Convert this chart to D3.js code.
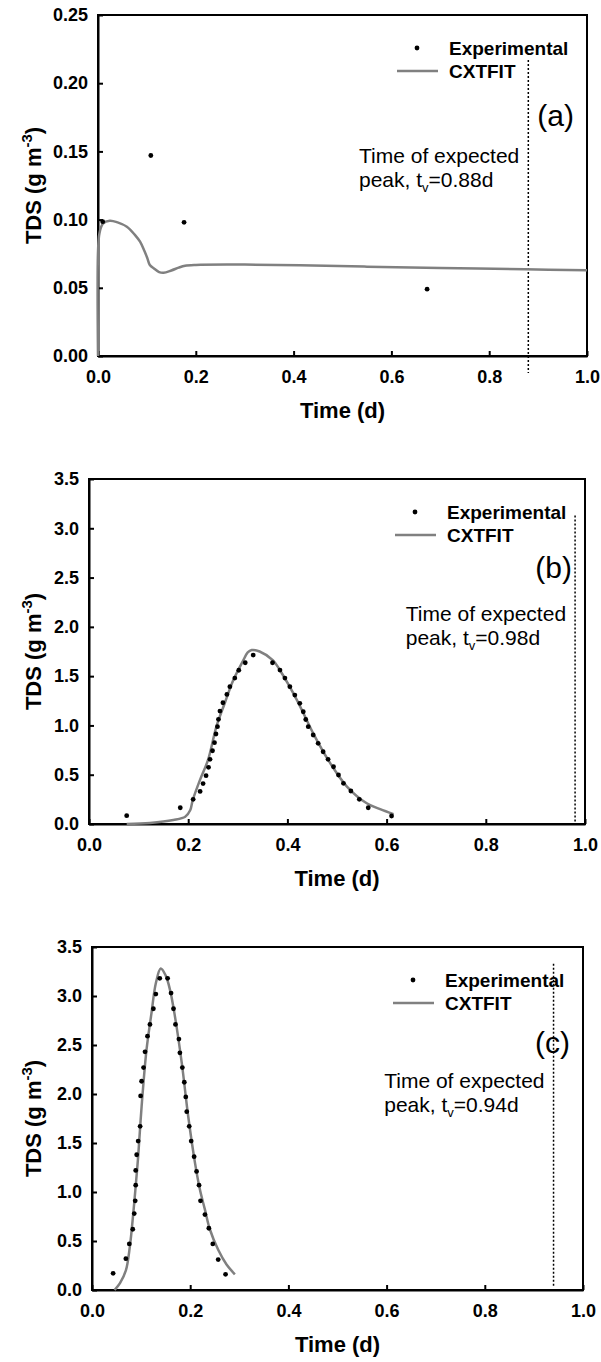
<!DOCTYPE html>
<html>
<head>
<meta charset="utf-8">
<title>TDS breakthrough curves</title>
<script src="https://d3js.org/d3.v7.min.js"></script>
<style>
  body { margin: 0; background: #fff; }
  svg { display: block; font-family: "Liberation Sans", Arial, sans-serif; }
  .tick text { font-weight: bold; font-size: 18px; fill: #000; }
  .axis-title { font-weight: bold; font-size: 22px; }
  .legend text { font-weight: bold; font-size: 19px; }
  .note { font-size: 21px; }
  .panel-label { font-size: 30px; }
</style>
</head>
<body>
<div id="chart"></div>
<script>
// ---- data ----
const xTicks = [0, 0.2, 0.4, 0.6, 0.8, 1.0];
const yTicksA = [0, 0.05, 0.10, 0.15, 0.20, 0.25];
const yTicksBC = [0, 0.5, 1.0, 1.5, 2.0, 2.5, 3.0, 3.5];
const panelLabels = ["(a)", "(b)", "(c)"];
const peakTimes = [0.88, 0.98, 0.94];
const peakLineTop = [0.217, 3.13, 3.33];
const peakLineBottom = [-0.0125, 0, 0.04];

// panel (a)
const expA = [[0.0096, 0.0985], [0.108, 0.147], [0.176, 0.098], [0.673, 0.049]];
const fitA = [[0, 0], [0, 0.076], [0.003, 0.09], [0.01, 0.097], [0.024, 0.0992], [0.04, 0.098],
  [0.059, 0.0948], [0.075, 0.089], [0.086, 0.0838], [0.095, 0.077], [0.101, 0.0716],
  [0.106, 0.0667], [0.115, 0.064], [0.125, 0.0615], [0.134, 0.061], [0.15, 0.0627],
  [0.165, 0.0648], [0.178, 0.0662], [0.2, 0.0668], [0.3, 0.067], [0.413, 0.0666],
  [0.55, 0.0655], [0.7, 0.0645], [0.873, 0.0636], [1.0, 0.0628]];

// panel (b)
const expB = [[0.076, 0.084], [0.184, 0.165], [0.210, 0.25], [0.224, 0.33], [0.230, 0.41],
  [0.236, 0.49], [0.241, 0.575], [0.244, 0.656], [0.249, 0.743], [0.253, 0.825],
  [0.256, 0.913], [0.259, 0.987], [0.261, 1.062], [0.264, 1.146], [0.270, 1.23],
  [0.278, 1.315], [0.284, 1.393], [0.294, 1.48], [0.302, 1.56], [0.315, 1.636],
  [0.331, 1.714], [0.370, 1.636], [0.385, 1.562], [0.395, 1.48], [0.405, 1.393],
  [0.415, 1.308], [0.425, 1.224], [0.432, 1.139], [0.437, 1.06], [0.442, 0.987],
  [0.452, 0.903], [0.462, 0.818], [0.472, 0.733], [0.482, 0.656], [0.493, 0.581],
  [0.503, 0.497], [0.513, 0.413], [0.528, 0.335], [0.545, 0.25], [0.563, 0.165],
  [0.610, 0.081]];
const fitB = [[0.076, 0], [0.123, 0.01], [0.17, 0.04], [0.194, 0.074], [0.204, 0.14],
  [0.209, 0.24], [0.224, 0.45], [0.24, 0.65], [0.257, 0.99], [0.274, 1.23], [0.291, 1.46],
  [0.31, 1.65], [0.32, 1.74], [0.328, 1.765], [0.344, 1.75], [0.371, 1.66], [0.385, 1.56],
  [0.419, 1.26], [0.452, 0.92], [0.486, 0.62], [0.52, 0.38], [0.56, 0.21], [0.587, 0.15],
  [0.614, 0.10]];

// panel (c)
const expC = [[0.043, 0.17], [0.069, 0.32], [0.076, 0.47], [0.083, 0.62], [0.086, 0.78],
  [0.088, 0.91], [0.089, 1.07], [0.089, 1.22], [0.091, 1.38], [0.094, 1.52], [0.098, 1.67],
  [0.099, 1.98], [0.101, 2.13], [0.105, 2.27], [0.108, 2.43], [0.113, 2.59], [0.118, 2.71],
  [0.125, 2.87], [0.130, 3.02], [0.138, 3.18], [0.154, 3.18], [0.161, 3.03], [0.166, 2.87],
  [0.170, 2.71], [0.177, 2.56], [0.179, 2.42], [0.184, 2.27], [0.188, 2.12], [0.191, 1.97],
  [0.193, 1.82], [0.198, 1.67], [0.202, 1.52], [0.208, 1.36], [0.213, 1.21], [0.218, 1.07],
  [0.221, 0.91], [0.230, 0.77], [0.238, 0.63], [0.246, 0.47], [0.257, 0.31], [0.272, 0.16]];
const fitC = [[0.046, 0], [0.057, 0.07], [0.069, 0.2], [0.077, 0.44], [0.084, 0.78],
  [0.09, 1.12], [0.094, 1.36], [0.101, 1.87], [0.111, 2.45], [0.121, 2.82], [0.13, 3.13],
  [0.14, 3.28], [0.15, 3.21], [0.159, 3.06], [0.169, 2.79], [0.183, 2.31], [0.196, 1.77],
  [0.21, 1.29], [0.22, 1.02], [0.23, 0.82], [0.24, 0.62], [0.257, 0.41], [0.274, 0.26],
  [0.291, 0.16]];

// ---- layout ----
const W = 601, H = 1362;
const panels = [
  { box: { left: 98, right: 587, top: 15, bottom: 356 }, yMax: 0.25, yTicks: yTicksA, yFmt: ".2f",
    exp: expA, fit: fitA, labelDy: 111, noteDy: 148 },
  { box: { left: 89, right: 585, top: 479, bottom: 824 }, yMax: 3.5, yTicks: yTicksBC, yFmt: ".1f",
    exp: expB, fit: fitB, labelDy: 99, noteDy: 142 },
  { box: { left: 92, right: 583, top: 947, bottom: 1290 }, yMax: 3.5, yTicks: yTicksBC, yFmt: ".1f",
    exp: expC, fit: fitC, labelDy: 106, noteDy: 141 }
];

const svg = d3.select("#chart").append("svg")
  .attr("width", W)
  .attr("height", H);

panels.forEach((p, i) => {
  const b = p.box;
  const x = d3.scaleLinear().domain([0, 1]).range([b.left, b.right]);
  const y = d3.scaleLinear().domain([0, p.yMax]).range([b.bottom, b.top]);
  const g = svg.append("g");

  // frame
  g.append("rect")
    .attr("x", b.left).attr("y", b.top)
    .attr("width", b.right - b.left).attr("height", b.bottom - b.top)
    .attr("fill", "none").attr("stroke", "#000").attr("stroke-width", 2);

  // axes, ticks inward
  const xAxis = g.append("g")
    .attr("transform", `translate(0,${b.bottom})`)
    .call(d3.axisBottom(x).tickValues(xTicks).tickFormat(d3.format(".1f"))
      .tickSizeInner(-5).tickSizeOuter(0).tickPadding(14));
  const yAxis = g.append("g")
    .attr("transform", `translate(${b.left},0)`)
    .call(d3.axisLeft(y).tickValues(p.yTicks).tickFormat(d3.format(p.yFmt))
      .tickSizeInner(-5).tickSizeOuter(0).tickPadding(10));
  [xAxis, yAxis].forEach(a => {
    a.select(".domain").attr("stroke", "#000").attr("stroke-width", 2);
    a.selectAll(".tick line").attr("stroke", "#000").attr("stroke-width", 2);
  });

  // axis titles
  g.append("text").attr("class", "axis-title")
    .attr("x", (b.left + b.right) / 2).attr("y", b.bottom + 62)
    .attr("text-anchor", "middle").text("Time (d)");
  const yt = g.append("text").attr("class", "axis-title")
    .attr("transform", `translate(41,${(b.top + b.bottom) / 2}) rotate(-90)`)
    .attr("text-anchor", "middle");
  yt.append("tspan").text("TDS (g m");
  yt.append("tspan").attr("dy", -9).style("font-size", "15px").text("-3");
  yt.append("tspan").attr("dy", 9).text(")");

  // expected peak time
  const px = x(peakTimes[i]);
  g.append("line")
    .attr("x1", px).attr("x2", px)
    .attr("y1", y(peakLineTop[i])).attr("y2", y(peakLineBottom[i]))
    .attr("stroke", "#000").attr("stroke-width", 1.5)
    .attr("stroke-dasharray", "2,2");

  const note = g.append("g").attr("class", "note");
  const l1 = note.append("text").attr("y", b.top + p.noteDy).text("Time of expected");
  const l2 = note.append("text").attr("y", b.top + p.noteDy + 24);
  l2.append("tspan").text("peak, t");
  l2.append("tspan").attr("dy", 5).style("font-size", "13px").text("v");
  l2.append("tspan").attr("dy", -5).text("=" + peakTimes[i].toFixed(2) + "d");
  const nx = px - 9 - l1.node().getComputedTextLength();
  l1.attr("x", nx);
  l2.attr("x", nx);

  // panel label
  g.append("text").attr("class", "panel-label")
    .attr("x", b.right - 13).attr("y", b.top + p.labelDy)
    .attr("text-anchor", "end").text(panelLabels[i]);

  // CXTFIT fit
  g.append("path")
    .datum(p.fit)
    .attr("fill", "none")
    .attr("stroke", "#808080")
    .attr("stroke-width", 2.5)
    .attr("d", d3.line().x(d => x(d[0])).y(d => y(d[1])).curve(d3.curveCatmullRom.alpha(0.5)));

  // experimental points
  g.selectAll("circle.exp")
    .data(p.exp)
    .join("circle")
    .attr("class", "exp")
    .attr("cx", d => x(d[0]))
    .attr("cy", d => y(d[1]))
    .attr("r", 2.4)
    .attr("fill", "#000");

  // legend
  const lg = g.append("g").attr("class", "legend");
  lg.append("circle").attr("cx", b.right - 170).attr("cy", b.top + 33).attr("r", 2.4).attr("fill", "#000");
  lg.append("text").attr("x", b.right - 138).attr("y", b.top + 40).text("Experimental");
  lg.append("line")
    .attr("x1", b.right - 190).attr("x2", b.right - 149)
    .attr("y1", b.top + 56).attr("y2", b.top + 56)
    .attr("stroke", "#808080").attr("stroke-width", 2.5);
  lg.append("text").attr("x", b.right - 138).attr("y", b.top + 63).text("CXTFIT");
});
</script>
</body>
</html>
